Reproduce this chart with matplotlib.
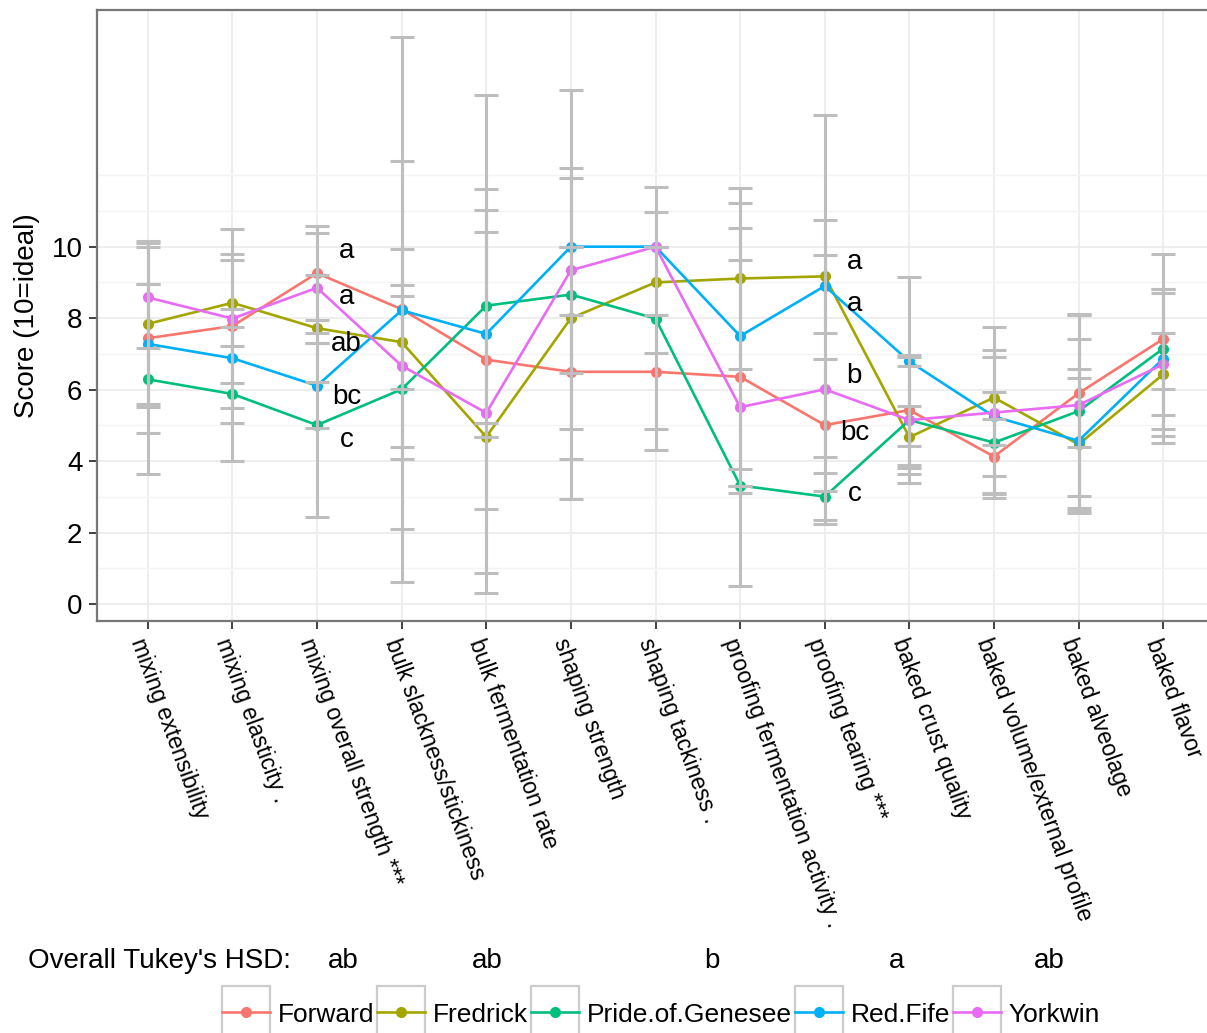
import numpy as np
import matplotlib
matplotlib.use('Agg')
import matplotlib.pyplot as plt
from matplotlib.lines import Line2D
from matplotlib.patches import Rectangle
from matplotlib.legend_handler import HandlerLine2D

plt.rcParams['font.family'] = ['Liberation Sans', 'DejaVu Sans']

categories = ['mixing extensibility', 'mixing elasticity .', 'mixing overall strength ***',
              'bulk slackness/stickiness', 'bulk fermentation rate', 'shaping strength',
              'shaping tackiness .', 'proofing fermentation activity .', 'proofing tearing ***',
              'baked crust quality', 'baked volume/external profile', 'baked alveolage',
              'baked flavor']
cultivars = ['Forward', 'Fredrick', 'Pride.of.Genesee', 'Red.Fife', 'Yorkwin']
colors = ['#F8766D', '#A3A500', '#00BF7D', '#00B0F6', '#E76BF3']

# mean scores per cultivar
forward_mean = [7.44, 7.78, 9.26, 8.25, 6.84, 6.50, 6.50, 6.36, 5.01, 5.43, 4.13, 5.90, 7.42]
fredrick_mean = [7.84, 8.43, 7.72, 7.33, 4.68, 8.00, 9.00, 9.11, 9.17, 4.67, 5.78, 4.47, 6.43]
pride_mean = [6.29, 5.88, 5.01, 6.01, 8.35, 8.66, 7.99, 3.32, 3.01, 5.15, 4.52, 5.40, 7.15]
redfife_mean = [7.28, 6.88, 6.11, 8.22, 7.56, 10.0, 10.0, 7.50, 8.90, 6.79, 5.25, 4.57, 6.87]
yorkwin_mean = [8.58, 7.99, 8.85, 6.67, 5.35, 9.34, 10.0, 5.51, 6.01, 5.15, 5.36, 5.57, 6.71]

# standard deviations (error bars)
forward_sd = [2.65, 2.72, 1.31, 7.62, 4.19, 1.59, 1.59, 3.26, 1.85, 1.54, 1.04, 1.51, 1.40]
fredrick_sd = [2.32, 1.20, 1.50, 1.30, 0.00, 3.93, 1.96, 2.52, 1.58, 0.87, 1.32, 1.87, 1.15]
pride_sd = [2.66, 1.87, 2.57, 3.92, 3.27, 5.73, 3.67, 0.00, 0.66, 1.76, 1.41, 2.70, 2.64]
redfife_sd = [1.68, 1.38, 1.19, 4.17, 6.69, 0.00, 0.00, 3.72, 4.78, 2.36, 1.67, 2.02, 1.96]
yorkwin_sd = [1.42, 1.80, 1.54, 2.27, 5.05, 2.86, 0.00, 5.00, 3.77, 1.52, 2.40, 2.54, 2.00]

means = [forward_mean, fredrick_mean, pride_mean, redfife_mean, yorkwin_mean]
sds = [forward_sd, fredrick_sd, pride_sd, redfife_sd, yorkwin_sd]

# Tukey letters for the two significant traits
letter_cats = [3, 3, 3, 3, 3, 9, 9, 9, 9, 9]
letters = ['a', 'a', 'ab', 'bc', 'c', 'a', 'a', 'b', 'bc', 'c']
letter_y = [9.68, 8.39, 7.09, 5.60, 4.41, 9.38, 8.21, 6.19, 4.60, 2.90]

overall_hsd = ['ab', 'ab', 'b', 'a', 'ab']


class BoxedKey(HandlerLine2D):
    # legend key with a grey outlined box behind the line+point
    def create_artists(self, legend, orig_handle, xdescent, ydescent,
                       width, height, fontsize, trans):
        arts = super().create_artists(legend, orig_handle, xdescent, ydescent,
                                      width, height, fontsize, trans)
        yc = 0.36 * fontsize
        for a in arts:
            a.set_ydata(np.full_like(a.get_xdata(), yc, dtype=float))
        box = Rectangle((-xdescent, yc - fontsize), width, 2 * fontsize,
                        facecolor='white', edgecolor='#CCCCCC', lw=1.6,
                        transform=trans)
        return [box] + list(arts)


W, H = 1207, 1033
fig = plt.figure(figsize=(W / 100, H / 100), dpi=100)
ax = fig.add_axes([97 / W, 1 - 621 / H, (1214 - 97) / W, (621 - 10) / H])

x = np.arange(1, len(categories) + 1)
handles = []
for name, col, m, s in zip(cultivars, colors, means, sds):
    ax.plot(x, m, color=col, lw=1.9, marker='o', ms=7, zorder=3)
    ax.errorbar(x, m, yerr=s, fmt='none', ecolor='#BEBEBE', elinewidth=2.2,
                capsize=8.5, capthick=2.2, zorder=4)
    handles.append(Line2D([], [], color=col, lw=1.9, marker='o', ms=7))

for c, t, yv in zip(letter_cats, letters, letter_y):
    ax.text(c + 0.35, yv, t, ha='center', va='baseline', fontsize=20, zorder=5)

ax.set_xlim(0.4, 13.6)
ax.set_ylim(-0.47, 16.62)
ax.set_yticks([0, 2, 4, 6, 8, 10])
ax.set_yticks([1, 3, 5, 7, 9, 11, 12], minor=True)
ax.set_xticks(x)
ax.set_xticklabels(categories, rotation=-70, ha='left', va='top',
                   rotation_mode='anchor', fontsize=16.5)
ax.tick_params(axis='y', labelsize=20)
ax.tick_params(which='major', direction='out', length=5.5, width=1.3,
               color='#333333', pad=5)
ax.tick_params(which='minor', length=0)
ax.grid(which='major', color='#EBEBEB', lw=1.2, zorder=0)
ax.grid(which='minor', axis='y', color='#F4F4F4', lw=1.0, zorder=0)
ax.set_axisbelow(True)
for sp in ax.spines.values():
    sp.set_color('#777777')
    sp.set_linewidth(1.6)
ax.set_ylabel('Score (10=ideal)', fontsize=20, labelpad=8)

fig.text(28 / W, 1 - 968 / H, "Overall Tukey's HSD:", ha='left', va='baseline', fontsize=20)
for px, t in zip([343, 487, 712, 897, 1049], overall_hsd):
    fig.text(px / W, 1 - 968 / H, t, ha='center', va='baseline', fontsize=20)

fig.legend(handles, cultivars, loc='center', bbox_to_anchor=(661 / W, 1 - 1013.5 / H),
           ncol=5, frameon=False, fontsize=19, handlelength=1.82, handleheight=1.85,
           handletextpad=0.3, columnspacing=0.1, borderpad=0,
           handler_map={Line2D: BoxedKey()})

fig.savefig('out.png', dpi=100)
